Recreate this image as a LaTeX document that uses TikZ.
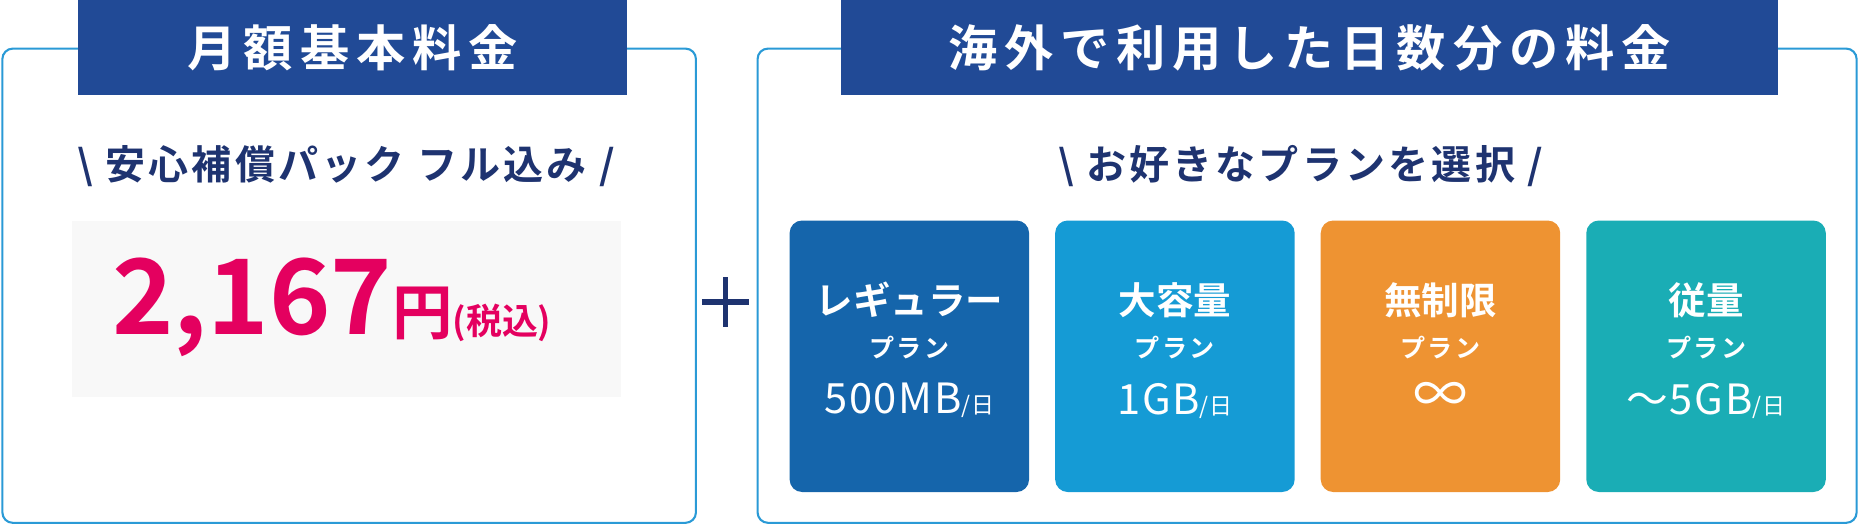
\documentclass[tikz,border=0pt]{standalone}
\usepackage{fontspec}
\setmainfont{Noto Sans CJK JP}[BoldFont={Noto Sans CJK JP Bold}]
\definecolor{headblue}{HTML}{214A96}
\definecolor{framblue}{HTML}{2A9AD6}
\definecolor{subnavy}{HTML}{1E3370}
\definecolor{pricered}{HTML}{E4005F}
\definecolor{cardA}{HTML}{1565AB}
\definecolor{cardB}{HTML}{159BD5}
\definecolor{cardC}{HTML}{EE9332}
\definecolor{cardD}{HTML}{1AADB5}
\definecolor{pricebg}{HTML}{F8F8F8}
\tikzset{
  frame/.style={draw=framblue, line width=0.5pt, rounded corners=2.5pt},
  head/.style={fill=headblue, draw=none},
  headtext/.style={text=white, font=\bfseries\fontsize{11.8}{13}\selectfont\addfontfeatures{LetterSpace=14}},
  subtext/.style={text=subnavy, font=\bfseries\fontsize{9.6}{11}\selectfont\addfontfeatures{LetterSpace=8}},
  card/.style={rounded corners=3pt, draw=none},
  cardtitle/.style={text=white, font=\bfseries\fontsize{9}{10}\selectfont},
  cardplan/.style={text=white, font=\bfseries\fontsize{6}{7}\selectfont\addfontfeatures{LetterSpace=10}},
  cardval/.style={text=white, font=\fontsize{10}{11}\selectfont\addfontfeatures{LetterSpace=4}},
}
\begin{document}
\begin{tikzpicture}[x=0.01cm, y=-0.01cm]
\useasboundingbox (0,0) rectangle (1568,443);

% left panel
\draw[frame] (2,41) rectangle (587,441);
\fill[head] (66,0) rectangle (529,80);
\node[headtext] (lhead) at (297.5,40) {月額基本料金};
\node[subtext] (lsub) at (292,140) {\textbackslash\ 安心補償パック フル込み /};
\fill[pricebg] (61,186) rectangle (524,335);
\node[text=pricered, font=\bfseries, anchor=base] (price) at (280,282)
  {{\fontsize{25}{26}\selectfont 2,167}{\fontsize{14.5}{16}\selectfont 円}{\fontsize{8.6}{10}\selectfont (税込)}};

% plus
\draw[subnavy, line width=1.4pt] (592,255) -- (632,255);
\draw[subnavy, line width=1.4pt] (612,234) -- (612,276);

% right panel
\draw[frame] (639,41) rectangle (1566,441);
\fill[head] (709,0) rectangle (1500,80);
\node[headtext] (rhead) at (1104.5,40) {海外で利用した日数分の料金};
\node[subtext] (rsub) at (1097,140) {\textbackslash\ お好きなプランを選択 /};

% plan cards
\foreach \x/\col/\ttl [count=\i] in {
  666/cardA/レギュラー,
  890/cardB/大容量,
  1114/cardC/無制限,
  1338/cardD/従量}{
  \fill[card, \col] (\x,186) rectangle ++(202,229);
  \node[cardtitle] (ttl\i) at (\x+101,253) {\ttl};
  \node[cardplan] (plan\i) at (\x+101,293) {プラン};
}
\node[cardval] (val1) at (767,338) {500MB{\fontsize{5.5}{6}\selectfont /日}};
\node[cardval] (val2) at (991,338) {1GB{\fontsize{5.5}{6}\selectfont /日}};
\node[cardval] (val3) at (1215,336) {\fontsize{13}{14}\selectfont ∞};
\node[cardval] (val4) at (1439,338) {～5GB{\fontsize{5.5}{6}\selectfont /日}};

\end{tikzpicture}
\end{document}
